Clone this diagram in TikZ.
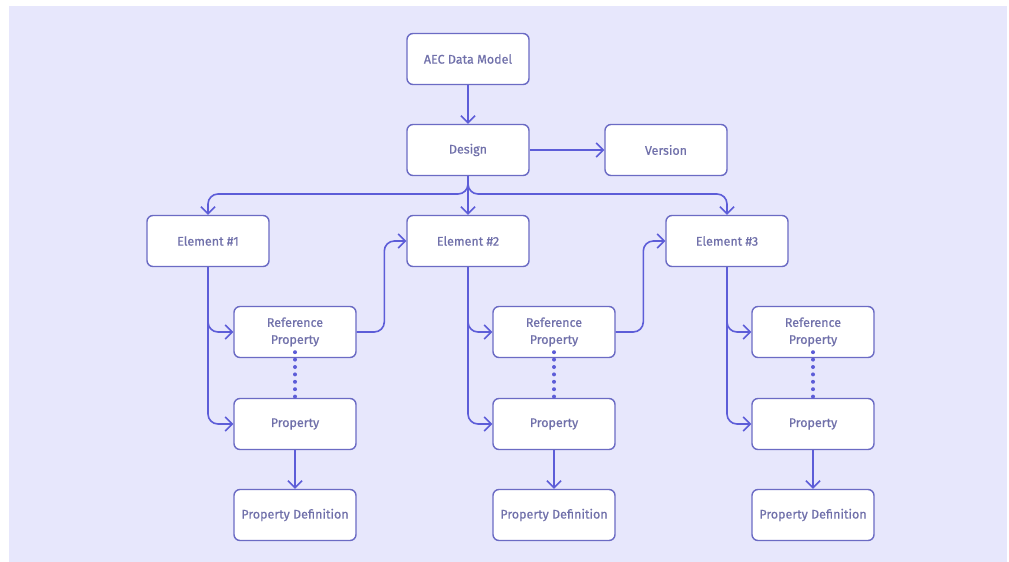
\documentclass[tikz,border=0pt]{standalone}
\usepackage{fontspec}
\setmainfont{Fira Sans}
\newfontfamily\labelfont{Fira Sans}[FakeBold=0.6]
\usetikzlibrary{arrows.meta}
\definecolor{bgpage}{HTML}{E7E7FC}
\definecolor{boxline}{HTML}{6B6BC4}
\definecolor{wire}{HTML}{5D5DD8}
\definecolor{label}{HTML}{7070AA}
\begin{document}
\begin{tikzpicture}[x=1pt,y=-1pt,
  box/.style={draw=boxline, fill=white, line width=1.4pt, rounded corners=6pt,
    minimum width=122pt, minimum height=51pt, inner sep=2pt,
    text=label, font=\labelfont\fontsize{12.5}{17}\selectfont, align=center},
  wire/.style={draw=wire, line width=1.6pt, rounded corners=10pt,
    -{Straight Barb[length=7pt,width=14pt,line width=1.6pt]}},
  dots/.style={draw=wire, line width=4pt, line cap=round, dash pattern=on 0pt off 7.4pt}]
  % page and background panel
  \useasboundingbox (0,0) rectangle (1009,562);
  \fill[white] (0,0) rectangle (1009,562);
  \fill[bgpage] (9,6) rectangle (1007,562);

  % top level
  \node[box] (aec) at (468,59) {AEC Data Model};
  \node[box] (design) at (468,150) {Design};
  \node[box] (version) at (666,150) {Version};

  % elements
  \node[box] (e1) at (208,241) {Element \#1};
  \node[box] (e2) at (468,241) {Element \#2};
  \node[box] (e3) at (727,241) {Element \#3};

  % properties of each element
  \foreach \i/\x in {1/295,2/554,3/813}{
    \node[box] (rp\i) at (\x,332) {Reference\\Property};
    \node[box] (p\i)  at (\x,424) {Property};
    \node[box] (pd\i) at (\x,515) {Property Definition};
  }

  \coordinate (split) at (468,194);

  % connectors
  \draw[wire] (aec) -- (design);
  \draw[wire] (design) -- (version);
  \draw[wire] (design.south) -- (e2.north);
  \draw[wire] (design.south) -- (split) -| (e1.north);
  \draw[wire] (design.south) -- (split) -| (e3.north);

  \foreach \i/\j in {1/2,2/3}{
    \draw[wire] (rp\i.east) -| ([xshift=-22pt]e\j.west) -- (e\j.west);
  }
  \foreach \i in {1,2,3}{
    \draw[wire] (e\i.south) |- (rp\i.west);
    \draw[wire] (e\i.south) |- (p\i.west);
    \draw[dots] ([yshift=6pt]rp\i.south) -- ([yshift=-4pt]p\i.north);
    \draw[wire] (p\i) -- (pd\i);
  }
\end{tikzpicture}
\end{document}
